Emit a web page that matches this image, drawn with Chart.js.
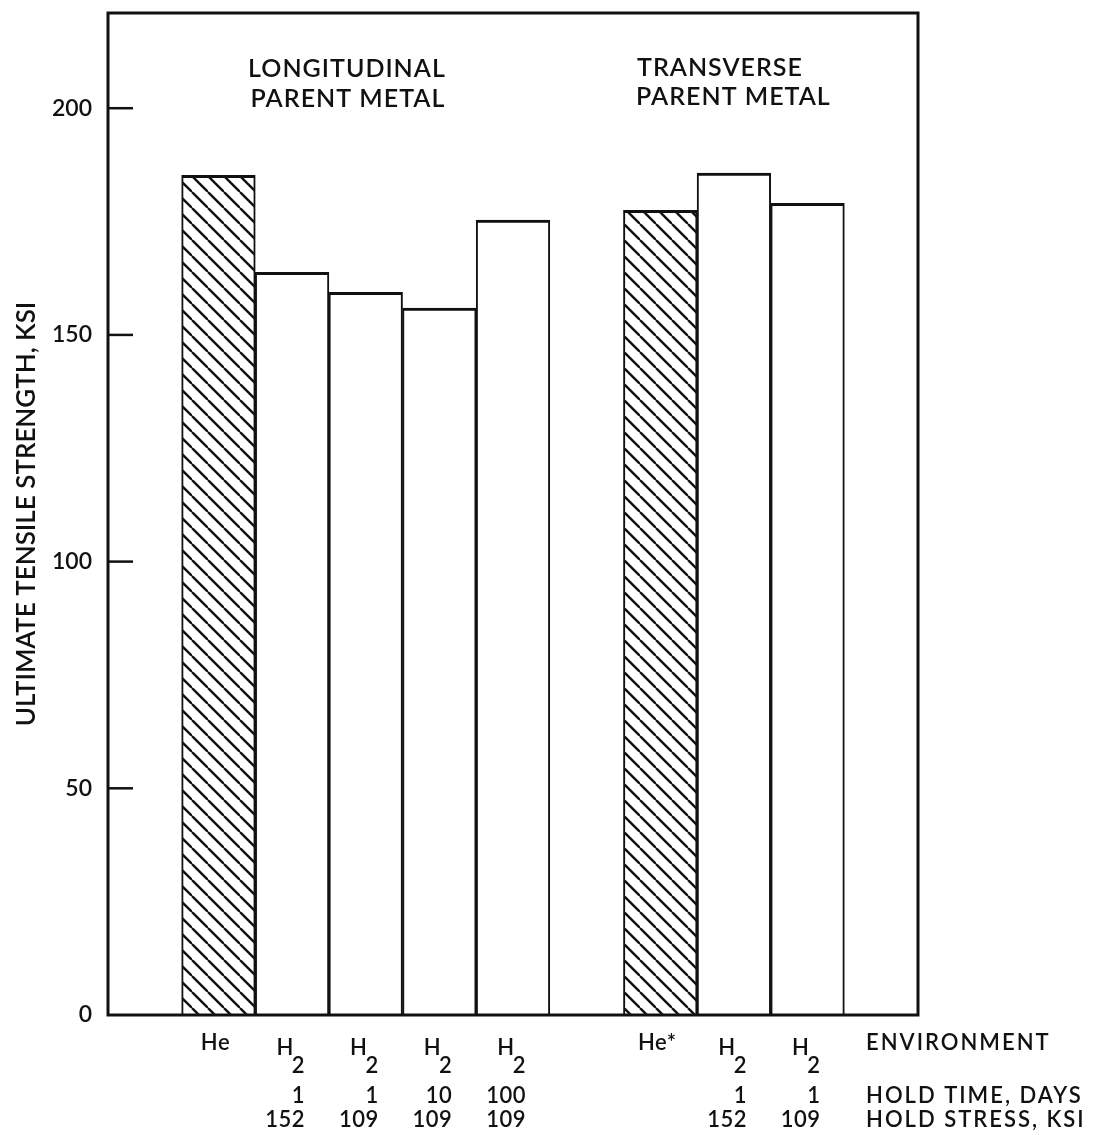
<!DOCTYPE html>
<html>
<head>
<meta charset="utf-8">
<script src="https://cdn.jsdelivr.net/npm/chart.js@4"></script>
<style>
  html, body { margin: 0; padding: 0; background: #fff; }
</style>
</head>
<body>
<canvas id="strengthChart" width="1102" height="1135"></canvas>
<script>
// one slot per bar position, the blank slots give the gaps
var slots = ['', 'He', 'H2', 'H2', 'H2', 'H2', '', 'He*', 'H2', 'H2', ''];
var holdTime = ['', '', '1', '1', '10', '100', '', '', '1', '1', ''];
var holdStress = ['', '', '152', '109', '109', '109', '', '', '152', '109', ''];
var heValues = [null, 185.2, null, null, null, null, null, 177.5, null, null, null];
var h2Values = [null, null, 163.8, 159.4, 155.9, 175.3, null, null, 185.7, 179.0, null];
var yTicks = [0, 50, 100, 150, 200];
var rowNames = ['ENVIRONMENT', 'HOLD TIME, DAYS', 'HOLD STRESS, KSI'];

var ink = '#111';
var face = 'Lato';
var canvas = document.getElementById('strengthChart');
var ctx = canvas.getContext('2d');

// diagonal hatching for the helium bars
function makeHatch() {
    var tile = document.createElement('canvas');
    tile.width = 16;
    tile.height = 16;
    var g = tile.getContext('2d');
    g.fillStyle = '#fff';
    g.fillRect(0, 0, 16, 16);
    g.strokeStyle = ink;
    g.lineWidth = 2.4;
    [-16, 0, 16].forEach(function(x0) {
        g.beginPath();
        g.moveTo(x0, 0);
        g.lineTo(x0 + 16, 16);
        g.stroke();
    });
    return ctx.createPattern(tile, 'repeat');
}

// frame, inside ticks, group titles and the table under the bars
var paperPlugin = {
    id: 'paper',
    afterDraw: function(chart) {
        var c = chart.ctx;
        var a = chart.chartArea;
        var xs = chart.scales.x;
        var ys = chart.scales.y;
        c.save();
        c.strokeStyle = ink;
        c.fillStyle = ink;
        c.lineWidth = 3;
        c.strokeRect(a.left, a.top, a.right - a.left, a.bottom - a.top);

        c.lineWidth = 2.5;
        yTicks.forEach(function(v) {
            if (v === 0) return;
            var py = ys.getPixelForValue(v);
            c.beginPath();
            c.moveTo(a.left, py);
            c.lineTo(a.left + 25, py);
            c.stroke();
        });

        c.font = '600 25px ' + face;
        c.letterSpacing = '1px';
        c.textAlign = 'center';
        c.fillText('LONGITUDINAL', a.left + 239, a.top + 64);
        c.fillText('PARENT METAL', a.left + 240, a.top + 94);
        c.textAlign = 'left';
        c.fillText('TRANSVERSE', a.left + 529, a.top + 63);
        c.fillText('PARENT METAL', a.left + 528, a.top + 92);

        c.font = '600 22px ' + face;
        c.letterSpacing = '0.5px';
        for (var i = 0; i < slots.length; i++) {
            var cx = xs.getPixelForValue(i);
            var right = cx + 13;
            var env = slots[i];
            if (env === 'H2') {
                c.textAlign = 'right';
                var w2 = c.measureText('2').width;
                c.fillText('2', right, a.bottom + 58);
                c.fillText('H', right - w2 + 2, a.bottom + 40);
            } else if (env) {
                c.textAlign = 'center';
                c.fillText(env, cx - 3, a.bottom + 35);
            }
            c.textAlign = 'right';
            if (holdTime[i]) c.fillText(holdTime[i], right, a.bottom + 88);
            if (holdStress[i]) c.fillText(holdStress[i], right, a.bottom + 112);
        }

        c.textAlign = 'left';
        c.letterSpacing = '2px';
        var rowY = [35, 88, 112];
        rowNames.forEach(function(name, k) {
            c.fillText(name, a.right - 52, a.bottom + rowY[k]);
        });
        c.restore();
    }
};

var strengthChart = new Chart(ctx, {
    type: 'bar',
    data: {
        labels: slots,
        datasets: [
            {
                label: 'He',
                data: heValues,
                backgroundColor: makeHatch(),
                borderColor: ink,
                borderWidth: {top: 3, left: 2, right: 2, bottom: 0},
                grouped: false,
                barPercentage: 1,
                categoryPercentage: 1
            },
            {
                label: 'H2',
                data: h2Values,
                backgroundColor: '#fff',
                borderColor: ink,
                borderWidth: {top: 3, left: 2, right: 2, bottom: 0},
                grouped: false,
                barPercentage: 1,
                categoryPercentage: 1
            }
        ]
    },
    options: {
        responsive: false,
        animation: false,
        devicePixelRatio: 1,
        layout: {
            padding: {top: 13, right: 184, bottom: 120, left: 0}
        },
        scales: {
            x: {
                display: false
            },
            y: {
                min: 0,
                max: 221,
                afterBuildTicks: function(scale) {
                    scale.ticks = yTicks.map(function(v) { return {value: v}; });
                },
                afterFit: function(scale) {
                    scale.width = 108;
                    scale.paddingTop = 0;
                    scale.paddingBottom = 0;
                },
                grid: {display: false, drawTicks: false},
                border: {display: false},
                ticks: {
                    color: ink,
                    padding: 16,
                    font: {family: face, size: 23, weight: '600'}
                },
                title: {
                    display: true,
                    text: 'ULTIMATE TENSILE STRENGTH, KSI',
                    color: ink,
                    padding: {top: 11, bottom: 0},
                    font: {family: face, size: 26, weight: '600'}
                }
            }
        },
        plugins: {
            legend: {display: false},
            tooltip: {enabled: false}
        }
    },
    plugins: [paperPlugin]
});
</script>
</body>
</html>
